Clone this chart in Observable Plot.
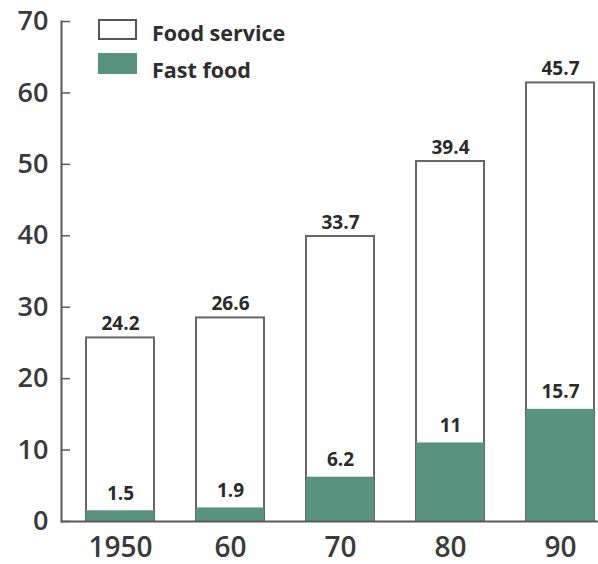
<!DOCTYPE html>
<html>
<head>
<meta charset="utf-8">
<script src="https://cdn.jsdelivr.net/npm/d3@7"></script>
<script src="https://cdn.jsdelivr.net/npm/@observablehq/plot@0.6"></script>
<style>
  html, body { margin: 0; padding: 0; background: #fff; }
  #wrap { position: relative; width: 598px; height: 564px; overflow: hidden; }
  .lg-sw { position: absolute; box-sizing: border-box; width: 39px; height: 21px; }
  .lg-tx { position: absolute; font-family: "Open Sans", sans-serif; font-weight: 700; font-size: 21.5px; line-height: 1; color: #2e2e2e; white-space: nowrap; }
</style>
</head>
<body>
<div id="wrap">
  <div id="chart"></div>
  <div id="legend"></div>
</div>
<script>
const years = ["1950", "1960", "1970", "1980", "1990"];
const tickLabels = ["1950", "60", "70", "80", "90"];
const foodService = [24.2, 26.6, 33.7, 39.4, 45.7];
const fastFood = [1.5, 1.9, 6.2, 11, 15.7];
const yTicks = [0, 10, 20, 30, 40, 50, 60, 70];
const seriesNames = ["Food service", "Fast food"];

const green = "#58937f";
const ink = "#333";
const axisGrey = "#5a5a5a";

const rows = years.map((year, i) => ({
  year,
  fs: foodService[i],
  ff: fastFood[i],
  total: foodService[i] + fastFood[i]
}));

const chart = Plot.plot({
  width: 598,
  height: 564,
  marginTop: 21,
  marginBottom: 43,
  marginLeft: 61,
  marginRight: 0,
  style: { fontFamily: "'Open Sans', sans-serif", color: ink, background: "#fff" },
  x: { domain: years, range: [61, 619], paddingInner: 0.38, paddingOuter: 0.22, label: null },
  y: { domain: [0, 70], label: null },
  marks: [
    Plot.barY(rows, { x: "year", y1: 0, y2: "total", fill: "#fff", stroke: "#666", strokeWidth: 2 }),
    Plot.barY(rows, { x: "year", y1: 0, y2: "ff", fill: green }),
    Plot.ruleY([0], { stroke: axisGrey, strokeWidth: 2 }),
    Plot.frame({ anchor: "left", stroke: axisGrey, strokeWidth: 2 }),
    Plot.axisY(yTicks, { tickSize: 0, tickPadding: 13, fontSize: 27, fontWeight: 600, fill: "#3a3a3a", label: null }),
    Plot.axisY(yTicks, { tickSize: 9, dx: 9, text: null, stroke: axisGrey, strokeWidth: 1.5, label: null }),
    Plot.axisX(years, { tickSize: 0, tickPadding: 16, fontSize: 28, fontWeight: 600, fill: "#3a3a3a",
      tickFormat: (d) => tickLabels[years.indexOf(d)], label: null }),
    Plot.text(rows, { x: "year", y: "total", text: (d) => String(d.fs), dy: -14, fontSize: 19, fontWeight: 700, fill: "#2a2a2a" }),
    Plot.text(rows, { x: "year", y: "ff", text: (d) => String(d.ff), dy: -17, fontSize: 19, fontWeight: 700, fill: "#2a2a2a" })
  ]
});
document.getElementById("chart").appendChild(chart);

const legendItems = [
  { name: seriesNames[0], fill: "#fff", border: "2px solid #555", swTop: 19, txTop: 22 },
  { name: seriesNames[1], fill: green, border: "none", swTop: 53, txTop: 59 }
];
const legend = document.getElementById("legend");
legendItems.forEach((it) => {
  const sw = document.createElement("div");
  sw.className = "lg-sw";
  sw.style.left = "98px";
  sw.style.top = it.swTop + "px";
  sw.style.background = it.fill;
  sw.style.border = it.border;
  const t = document.createElement("div");
  t.className = "lg-tx";
  t.style.left = "152px";
  t.style.top = it.txTop + "px";
  t.textContent = it.name;
  legend.appendChild(sw);
  legend.appendChild(t);
});
</script>
</body>
</html>
